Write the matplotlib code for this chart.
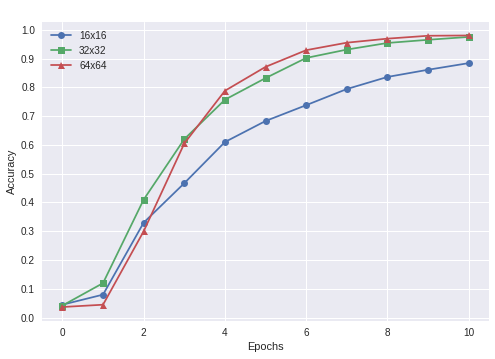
import matplotlib
matplotlib.use("Agg")
import matplotlib.pyplot as plt

plt.style.use('seaborn-v0_8')
plt.rcParams['font.family'] = ['Liberation Sans', 'DejaVu Sans']

epochs = list(range(11))
acc_16 = [0.045, 0.08, 0.33, 0.467, 0.61, 0.683, 0.738, 0.794, 0.836, 0.861, 0.884]
acc_32 = [0.042, 0.12, 0.41, 0.62, 0.757, 0.832, 0.902, 0.931, 0.954, 0.965, 0.975]
acc_64 = [0.037, 0.045, 0.30, 0.605, 0.788, 0.871, 0.929, 0.955, 0.969, 0.979, 0.98]
labels = ['16x16', '32x32', '64x64']

fig, ax = plt.subplots(figsize=(495 / 72, 359 / 72), dpi=72)
ax.plot(epochs, acc_16, marker='o', label=labels[0])
ax.plot(epochs, acc_32, marker='s', label=labels[1])
ax.plot(epochs, acc_64, marker='^', label=labels[2])
ax.set_yticks([i / 10 for i in range(11)])
ax.set_xlabel('Epochs')
ax.set_ylabel('Accuracy')
ax.legend(loc='upper left')
fig.subplots_adjust(left=0.085, right=0.988, top=0.939, bottom=0.107)
fig.savefig('out.png', dpi=72)
